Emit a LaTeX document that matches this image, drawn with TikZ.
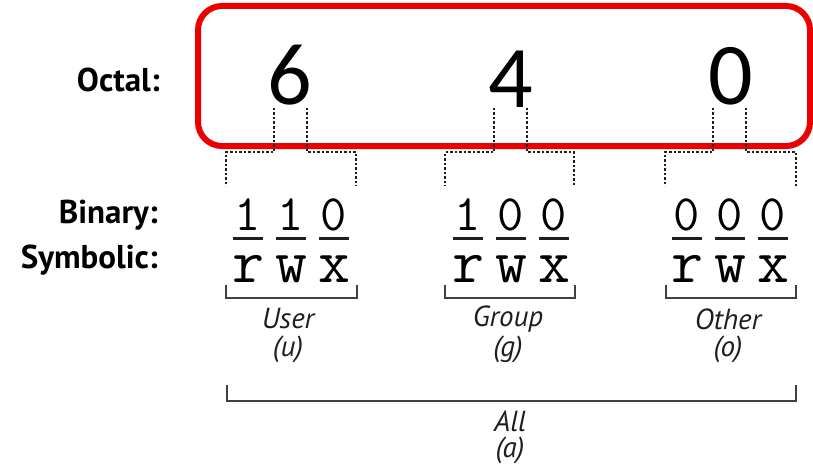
\documentclass[tikz,border=0pt]{standalone}
\usepackage{fontspec}
\setmainfont{PT Sans}
\newfontfamily\digitfont{Carlito}
\newfontfamily\monofont{Latin Modern Mono}
\usetikzlibrary{shadows}
\definecolor{boxred}{RGB}{235,0,0}
\definecolor{ink}{RGB}{30,30,30}
\tikzset{
  lbl/.style={anchor=base east, inner sep=0pt, font=\bfseries\fontsize{33}{35}\selectfont},
  big/.style={anchor=base, inner sep=0pt, font=\digitfont\fontsize{88}{90}\selectfont},
  bit/.style={anchor=base, inner sep=0pt, text height=27pt, text depth=0pt, font=\monofont\fontsize{51}{53}\selectfont},
  sym/.style={anchor=base, inner sep=0pt, text height=26pt, text depth=0pt, font=\monofont\fontsize{62}{64}\selectfont},
  captxt/.style={anchor=center, inner sep=0pt, text=ink, font=\itshape\fontsize{29}{31}\selectfont},
  dots/.style={draw=ink, line width=1.3pt, dash pattern=on 2.5pt off 2pt},
  brk/.style={draw=ink!85, line width=2.4pt},
  uline/.style={draw=ink, line width=3.5pt},
}
\begin{document}
\begin{tikzpicture}[x=1pt,y=-1pt]
\useasboundingbox (0,0) rectangle (813,468);
% red frame
\draw[boxred, line width=6pt, rounded corners=24pt,
      drop shadow={opacity=0.25, shadow xshift=2pt, shadow yshift=-3pt}, fill=white]
  (198,6) rectangle (810,146);
% labels
\node[lbl] (loct) at (160,92) {Octal:};
\node[lbl] (lbin) at (158,223) {Binary:};
\node[lbl] (lsym) at (158,268) {Symbolic:};
% octal digits
\node[big] (o6) at (290,105) {6};
\node[big] (o4) at (511,108) {4};
\node[big] (o0) at (731,105) {0};
% dotted splits
\coordinate (a1) at (274,108); \coordinate (a2) at (307,108);
\coordinate (b1) at (494,108); \coordinate (b2) at (527,108);
\coordinate (c1) at (713,108); \coordinate (c2) at (746,108);
\coordinate (a1e) at (226,186); \coordinate (a2e) at (356,186);
\coordinate (b1e) at (445,186); \coordinate (b2e) at (574,186);
\coordinate (c1e) at (665,186); \coordinate (c2e) at (796,186);
\foreach \s/\e in {a1/a1e,a2/a2e,b1/b1e,b2/b2e,c1/c1e,c2/c2e}{
  \draw[dots] (\s) -- ++(0,44) -| (\e);
}
% binary + symbolic
\foreach \g/\cx/\bits in {u/291/{1,1,0}, g/511/{1,0,0}, o/730/{0,0,0}}{
  \foreach \b [count=\i] in \bits {
    \pgfmathsetmacro{\xx}{\cx+(\i-2)*43}
    \node[bit] (bit\g\i) at (\xx,230) {\b};
    \draw[uline] (\xx-15,238.5) -- (\xx+15,238.5);
  }
  \node[sym] (s\g1) at (\cx-43,282) {r};
  \node[sym] (s\g2) at (\cx,282) {w};
  \node[sym] (s\g3) at (\cx+43,282) {x};
}
% group brackets
\draw[brk] (226,285) |- (357,298) -- (357,285);
\draw[brk] (445,285) |- (575,298) -- (575,285);
\draw[brk] (666,285) |- (796,298) -- (796,285);
\node[captxt] (tu) at (288,319) {User};
\node[captxt] (tu2) at (288,349) {(u)};
\node[captxt] (tg) at (508,319) {Group};
\node[captxt] (tg2) at (508,349) {(g)};
\node[captxt] (to) at (728,319) {Other};
\node[captxt] (to2) at (728,349) {(o)};
% all bracket
\draw[brk] (227,385) |- (796,401) -- (796,385);
\node[captxt] (ta) at (510,421) {All};
\node[captxt] (ta2) at (510,450) {(a)};
\end{tikzpicture}
\end{document}
